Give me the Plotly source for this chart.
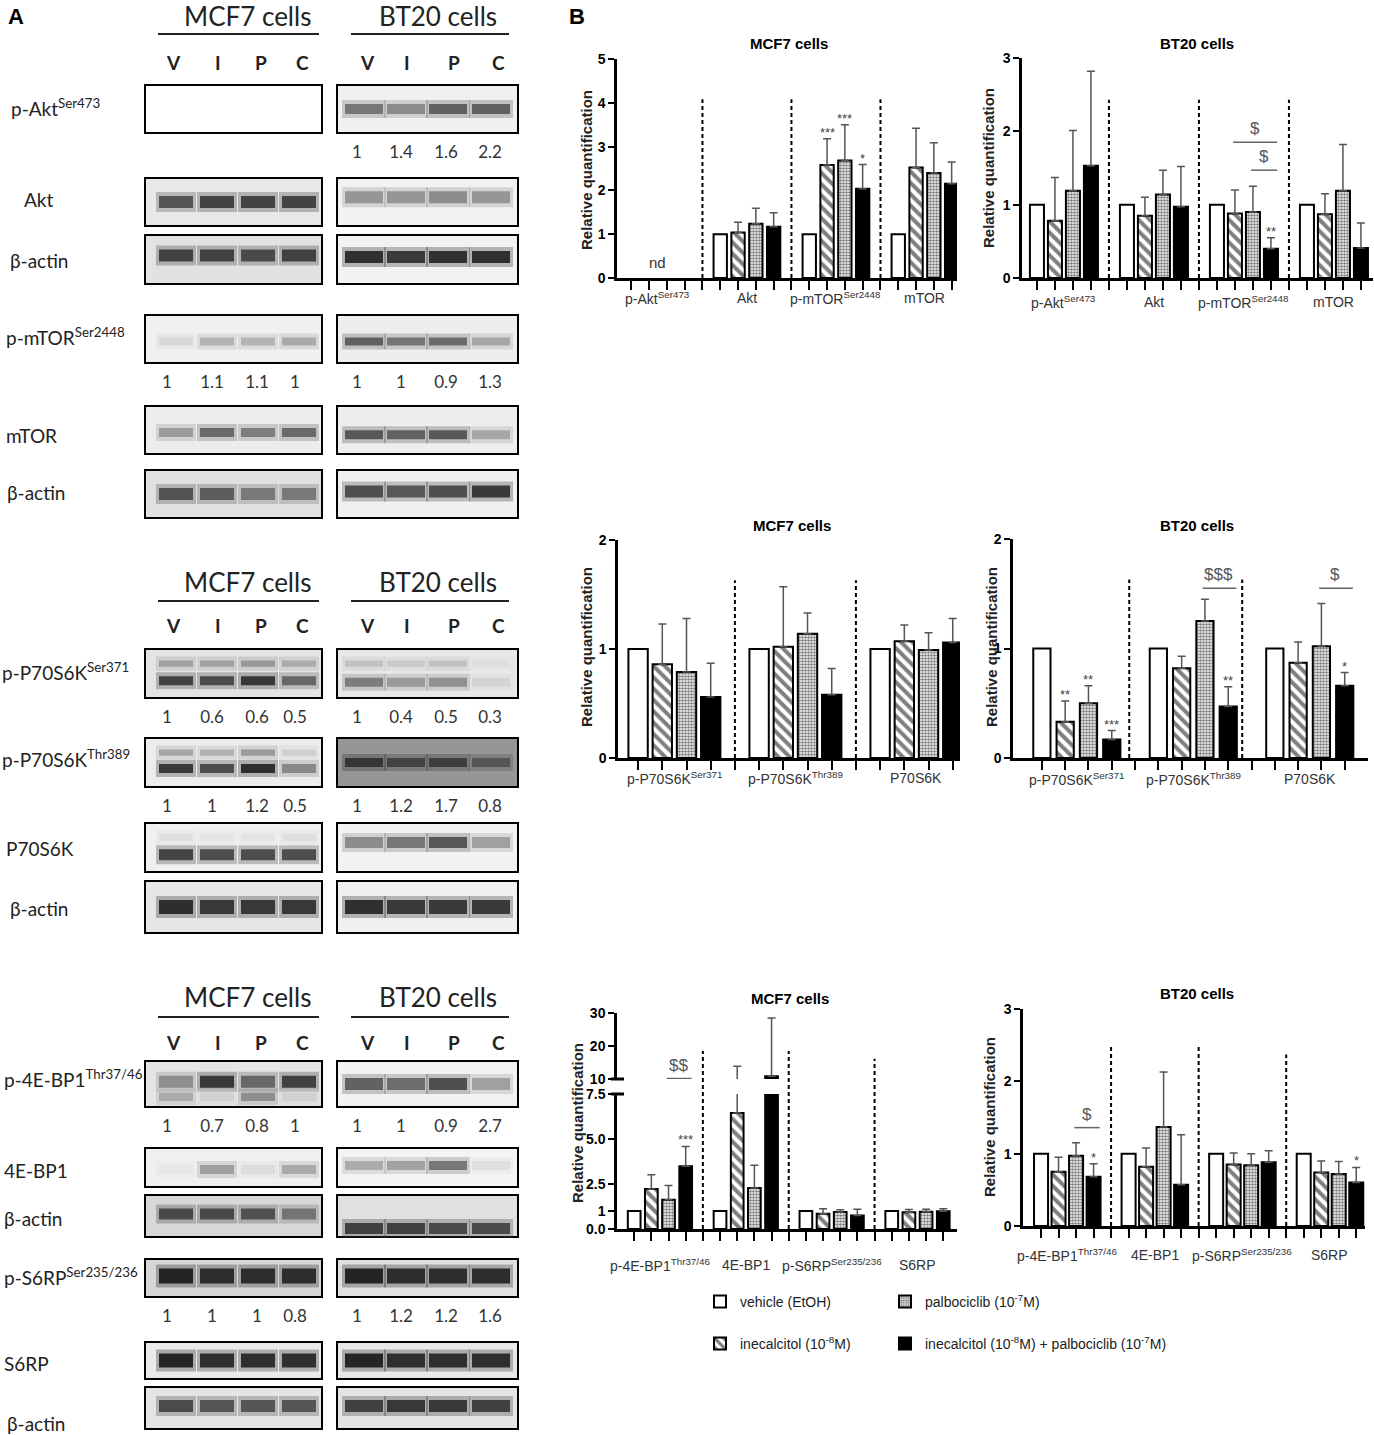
import plotly.graph_objects as go

W, H = 1374, 1435

# ---------------- panel B : quantification ----------------
treatments = [
    "vehicle (EtOH)",
    "inecalcitol (10<sup>-8</sup>M)",
    "palbociclib (10<sup>-7</sup>M)",
    "inecalcitol (10<sup>-8</sup>M) + palbociclib (10<sup>-7</sup>M)",
]

groups_akt = ["p-Akt<sup>Ser473</sup>", "Akt", "p-mTOR<sup>Ser2448</sup>", "mTOR"]
groups_p70 = ["p-P70S6K<sup>Ser371</sup>", "p-P70S6K<sup>Thr389</sup>", "P70S6K"]
groups_4ebp = ["p-4E-BP1<sup>Thr37/46</sup>", "4E-BP1", "p-S6RP<sup>Ser235/236</sup>", "S6RP"]

# rows: vehicle, inecalcitol, palbociclib, combination / columns: proteins
mcf7_akt_mean = [[None, 1, 1, 1], [None, 1.04, 2.58, 2.52], [None, 1.24, 2.68, 2.40], [None, 1.17, 2.04, 2.15]]
mcf7_akt_sd = [[None, 0, 0, 0], [None, 0.23, 0.60, 0.90], [None, 0.35, 0.82, 0.69], [None, 0.32, 0.55, 0.50]]
bt20_akt_mean = [[1, 1, 1, 1], [0.78, 0.85, 0.88, 0.87], [1.19, 1.14, 0.90, 1.19], [1.53, 0.97, 0.40, 0.41]]
bt20_akt_sd = [[0, 0, 0, 0], [0.59, 0.25, 0.32, 0.28], [0.82, 0.33, 0.35, 0.63], [1.29, 0.55, 0.15, 0.34]]
mcf7_p70_mean = [[1, 1, 1], [0.86, 1.02, 1.07], [0.79, 1.14, 0.99], [0.56, 0.58, 1.06]]
mcf7_p70_sd = [[0, 0, 0], [0.37, 0.55, 0.15], [0.49, 0.19, 0.16], [0.31, 0.24, 0.22]]
bt20_p70_mean = [[1, 1, 1], [0.33, 0.82, 0.87], [0.50, 1.25, 1.02], [0.17, 0.47, 0.66]]
bt20_p70_sd = [[0, 0, 0], [0.19, 0.11, 0.19], [0.16, 0.20, 0.39], [0.08, 0.18, 0.12]]
mcf7_4ebp_mean = [[1, 1, 1, 1], [2.22, 6.44, 0.85, 0.93], [1.63, 2.28, 0.95, 0.96], [3.48, 10.8, 0.75, 0.98]]
mcf7_4ebp_sd = [[0, 0, 0, 0], [0.80, 7.46, 0.27, 0.15], [0.78, 1.26, 0.12, 0.14], [1.11, 17.7, 0.35, 0.14]]
bt20_4ebp_mean = [[1, 1, 1, 1], [0.75, 0.82, 0.85, 0.74], [0.97, 1.37, 0.84, 0.72], [0.68, 0.57, 0.88, 0.60]]
bt20_4ebp_sd = [[0, 0, 0, 0], [0.20, 0.26, 0.16, 0.16], [0.18, 0.76, 0.16, 0.17], [0.18, 0.69, 0.16, 0.21]]

# vs vehicle: (protein, treatment, mark)
mcf7_akt_stars = [(2, 1, "***"), (2, 2, "***"), (2, 3, "*")]
bt20_akt_stars = [(2, 3, "**")]
mcf7_p70_stars = []
bt20_p70_stars = [(0, 1, "**"), (0, 2, "**"), (0, 3, "***"), (1, 3, "**"), (2, 3, "*")]
mcf7_4ebp_stars = [(0, 3, "***")]
bt20_4ebp_stars = [(0, 3, "*"), (3, 3, "*")]

# combination vs single agent: (protein, from, to, height, mark)
mcf7_akt_cmp = []
bt20_akt_cmp = [(2, 1, 3, 1.85, "$"), (2, 2, 3, 1.47, "$")]
mcf7_p70_cmp = []
bt20_p70_cmp = [(1, 2, 3, 1.55, "$$$"), (2, 2, 3, 1.55, "$")]
mcf7_4ebp_cmp = [(0, 2, 3, 10.15, "$$")]
bt20_4ebp_cmp = [(0, 2, 3, 1.36, "$")]

# ---------------- panel A : western blots ----------------
blot_names = ["p-Akt<sup>Ser473</sup>", "Akt", "β-actin", "p-mTOR<sup>Ser2448</sup>", "mTOR", "β-actin",
              "p-P70S6K<sup>Ser371</sup>", "p-P70S6K<sup>Thr389</sup>", "P70S6K", "β-actin",
              "p-4E-BP1<sup>Thr37/46</sup>", "4E-BP1", "β-actin", "p-S6RP<sup>Ser235/236</sup>", "S6RP", "β-actin"]
lanes = ["V", "I", "P", "C"]

# band darkness per lane (0 = none, 1 = black)
mcf7_bands = [[0, 0, 0, 0], [0.75, 0.85, 0.85, 0.85], [0.85, 0.85, 0.8, 0.85], [0.12, 0.3, 0.3, 0.35],
              [0.4, 0.65, 0.55, 0.65], [0.75, 0.7, 0.55, 0.55], [0.85, 0.8, 0.9, 0.65], [0.9, 0.8, 0.95, 0.5],
              [0.85, 0.8, 0.8, 0.8], [0.95, 0.9, 0.9, 0.9], [0.45, 0.9, 0.65, 0.85], [0.05, 0.4, 0.1, 0.35],
              [0.8, 0.8, 0.75, 0.55], [1, 0.95, 0.95, 0.95], [1, 0.95, 0.95, 0.95], [0.8, 0.75, 0.75, 0.75]]
mcf7_bands_minor = [None, None, None, None, None, None, [0.35, 0.35, 0.4, 0.3], [0.35, 0.3, 0.4, 0.15],
                    [0.08, 0.06, 0.06, 0.08], None, [0.3, 0.1, 0.45, 0.1], None, None, None, None, None]
bt20_bands = [[0.6, 0.5, 0.7, 0.7], [0.45, 0.45, 0.5, 0.45], [0.95, 0.9, 0.95, 0.95], [0.7, 0.6, 0.65, 0.35],
              [0.75, 0.7, 0.75, 0.35], [0.8, 0.75, 0.8, 0.9], [0.55, 0.4, 0.45, 0.1], [0.8, 0.7, 0.75, 0.55],
              [0.5, 0.6, 0.75, 0.4], [0.95, 0.9, 0.9, 0.9], [0.7, 0.65, 0.8, 0.4], [0.35, 0.4, 0.6, 0.1],
              [0.85, 0.85, 0.8, 0.8], [1, 0.95, 0.95, 0.95], [1, 0.95, 0.95, 0.95], [0.85, 0.9, 0.9, 0.85]]
bt20_bands_minor = [None, None, None, None, None, None, [0.2, 0.15, 0.2, 0.05], None,
                    None, None, None, None, None, None, None, None]

# densitometry ratios printed under the phospho blots
mcf7_quant = [None, None, None, [1, 1.1, 1.1, 1], None, None, [1, 0.6, 0.6, 0.5], [1, 1, 1.2, 0.5],
              None, None, [1, 0.7, 0.8, 1], None, None, [1, 1, 1, 0.8], None, None]
bt20_quant = [[1, 1.4, 1.6, 2.2], None, None, [1, 1, 0.9, 1.3], None, None, [1, 0.4, 0.5, 0.3], [1, 1.2, 1.7, 0.8],
              None, None, [1, 1, 0.9, 2.7], None, None, [1, 1.2, 1.2, 1.6], None, None]

# ---------------- layout (pixels) ----------------
def fx(px):
    return px / W


def fy(py):
    return 1 - py / H


charts = [
    dict(title="MCF7 cells", groups=groups_akt, mean=mcf7_akt_mean, sd=mcf7_akt_sd,
         stars=mcf7_akt_stars, cmp=mcf7_akt_cmp, px_x=(617, 957), px_y=(59, 278),
         xr=(-0.8, 18.3), yr=(0, 5), yt=[0, 1, 2, 3, 4, 5], ytt=None, bw=0.75,
         seps=[4, 9, 14], sep_h=[4.08, 4.08, 4.08], title_xy=(789, 44), ylab_xy=(586, 170), xlab_y=298),
    dict(title="BT20 cells", groups=groups_akt, mean=bt20_akt_mean, sd=bt20_akt_sd,
         stars=bt20_akt_stars, cmp=bt20_akt_cmp, px_x=(1022, 1373), px_y=(58, 278),
         xr=(-0.83, 18.67), yr=(0, 3), yt=[0, 1, 2, 3], ytt=None, bw=0.78,
         seps=[4, 9, 14], sep_h=[2.43, 2.43, 2.43], title_xy=(1197, 44), ylab_xy=(988, 168), xlab_y=302),
    dict(title="MCF7 cells", groups=groups_p70, mean=mcf7_p70_mean, sd=mcf7_p70_sd,
         stars=mcf7_p70_stars, cmp=mcf7_p70_cmp, px_x=(618, 960), px_y=(540, 758),
         xr=(-0.83, 13.3), yr=(0, 2), yt=[0, 1, 2], ytt=None, bw=0.8,
         seps=[4, 9], sep_h=[1.63, 1.63], title_xy=(792, 525), ylab_xy=(586, 647), xlab_y=778),
    dict(title="BT20 cells", groups=groups_p70, mean=bt20_p70_mean, sd=bt20_p70_sd,
         stars=bt20_p70_stars, cmp=bt20_p70_cmp, px_x=(1013, 1368), px_y=(539, 758),
         xr=(-1.24, 14.0), yr=(0, 2), yt=[0, 1, 2], ytt=None, bw=0.74,
         seps=[3.75, 8.6], sep_h=[1.63, 1.63], title_xy=(1197, 525), ylab_xy=(991, 647), xlab_y=779),
    dict(title="MCF7 cells", groups=groups_4ebp, mean=mcf7_4ebp_mean, sd=mcf7_4ebp_sd,
         stars=mcf7_4ebp_stars, cmp=mcf7_4ebp_cmp, px_x=(617, 957), px_y=(1094, 1229),
         xr=(-1.0, 18.8), yr=(0, 7.5), yt=[0, 1, 2.5, 5, 7.5], ytt=["0.0", "1", "2.5", "5.0", "7.5"], bw=0.74,
         upper=dict(px_y=(1013, 1079), yr=(10, 30), yt=[10, 20, 30]),
         seps=[4, 9, 14], sep_h=[18.5, 18.5, 16.1], title_xy=(790, 998), ylab_xy=(577, 1123), xlab_y=1265),
    dict(title="BT20 cells", groups=groups_4ebp, mean=bt20_4ebp_mean, sd=bt20_4ebp_sd,
         stars=bt20_4ebp_stars, cmp=bt20_4ebp_cmp, px_x=(1023, 1365), px_y=(1009, 1226),
         xr=(-1.03, 18.5), yr=(0, 3), yt=[0, 1, 2, 3], ytt=None, bw=0.8,
         seps=[4, 9, 14], sep_h=[2.48, 2.48, 2.37], title_xy=(1197, 994), ylab_xy=(989, 1117), xlab_y=1255),
]

FONT_B = "Liberation Sans"
FONT_A = "Lato"


def bar_marker(t):
    line = dict(color="black", width=2)
    if t == 0:
        return dict(color="white", line=line)
    if t == 1:
        return dict(color="white", line=line,
                    pattern=dict(shape="\\", fgcolor="black", bgcolor="white", size=8, solidity=0.5))
    if t == 2:
        return dict(color="white", line=line,
                    pattern=dict(shape=".", fgcolor="black", bgcolor="white", size=3, solidity=0.6))
    return dict(color="black", line=line)


def note(x, y, text, xref="paper", yref="paper", **kw):
    d = dict(x=x, y=y, xref=xref, yref=yref, text=text, showarrow=False,
             xanchor="center", yanchor="middle")
    d.update(kw)
    return d


fig = go.Figure()
shapes = []
annotations = []
axes = {}

legend_of = ["legend", "legend3", "legend2", "legend4"]

for i, c in enumerate(charts, start=1):
    xa, ya = f"x{i}", f"y{i}"
    ng = len(c["groups"])
    slots = list(range(ng * 5 - 1))
    axes[f"xaxis{i}"] = dict(
        domain=[fx(c["px_x"][0]), fx(c["px_x"][1])], range=list(c["xr"]), anchor=ya,
        showline=True, linewidth=2.5, linecolor="black", ticks="outside", ticklen=9, tickwidth=2,
        tickcolor="black", tickvals=slots, showticklabels=False, showgrid=False, zeroline=False)
    axes[f"yaxis{i}"] = dict(
        domain=[fy(c["px_y"][1]), fy(c["px_y"][0])], range=list(c["yr"]), anchor=xa,
        showline=True, linewidth=2.5, linecolor="black", ticks="outside", ticklen=6, tickwidth=2,
        tickcolor="black", tickvals=c["yt"], ticktext=c["ytt"] if c["ytt"] else [str(v) for v in c["yt"]],
        tickfont=dict(family=FONT_B, size=14, color="black", weight="bold"),
        showgrid=False, zeroline=False)
    y_axes = [ya]
    if "upper" in c:
        u = c["upper"]
        axes["yaxis7"] = dict(
            domain=[fy(u["px_y"][1]), fy(u["px_y"][0])], range=list(u["yr"]), anchor=xa,
            showline=True, linewidth=2.5, linecolor="black", ticks="outside", ticklen=6, tickwidth=2,
            tickcolor="black", tickvals=u["yt"], tickfont=dict(family=FONT_B, size=14, color="black", weight="bold"),
            showgrid=False, zeroline=False)
        y_axes.append("y7")

    for k, yref in enumerate(y_axes):
        for t in range(4):
            xs = [g * 5 + t for g in range(ng)]
            ys = c["mean"][t]
            sds = [s if s is not None else 0 for s in c["sd"][t]]
            fig.add_trace(go.Bar(
                x=xs, y=ys, width=c["bw"], xaxis=xa, yaxis=yref, name=treatments[t],
                marker=bar_marker(t),
                error_y=dict(type="data", symmetric=False, array=sds, arrayminus=[0] * ng,
                             color="#555555", thickness=1.5, width=4, visible=(t > 0)),
                showlegend=(i == 1 and k == 0), legend=legend_of[t], hoverinfo="skip"))

    # dashed separators between proteins
    for s, h in zip(c["seps"], c["sep_h"]):
        if "upper" in c:
            d0, d1 = axes["yaxis7"]["domain"]
            lo, hi = c["upper"]["yr"]
            y_top = d0 + (h - lo) / (hi - lo) * (d1 - d0)
            shapes.append(dict(type="line", xref=xa, yref="paper", x0=s, x1=s,
                               y0=fy(c["px_y"][1]), y1=y_top,
                               line=dict(color="black", width=2, dash="4px,3px")))
        else:
            shapes.append(dict(type="line", xref=xa, yref=ya, x0=s, x1=s, y0=0, y1=h,
                               line=dict(color="black", width=2, dash="4px,3px")))

    # stars
    for g, t, mark in c["stars"]:
        top = c["mean"][t][g] + c["sd"][t][g]
        annotations.append(note(g * 5 + t, top, mark, xa, ya, yanchor="bottom", yshift=-3,
                                font=dict(family=FONT_B, size=13, color="#444444")))
    # comparisons
    for g, t0, t1, h, mark in c["cmp"]:
        yref = "y7" if h > c["yr"][1] else ya
        shapes.append(dict(type="line", xref=xa, yref=yref, x0=g * 5 + t0 - 0.1, x1=g * 5 + t1 + 0.35,
                           y0=h, y1=h, line=dict(color="#666666", width=1.5)))
        annotations.append(note(g * 5 + (t0 + t1) / 2 + 0.1, h, mark, xa, yref, yanchor="bottom", yshift=2,
                                font=dict(family=FONT_B, size=17, color="#555555")))

    # protein labels under the axis
    for g, name in enumerate(c["groups"]):
        annotations.append(note(g * 5 + 1.5, fy(c["xlab_y"]), name, xa, "paper",
                                font=dict(family=FONT_B, size=14, color="#333333")))
    if c["mean"][0][0] is None:
        annotations.append(note(1.5, 0.12, "nd", xa, ya, yanchor="bottom",
                                font=dict(family=FONT_B, size=15, color="#333333")))

    annotations.append(note(fx(c["title_xy"][0]), fy(c["title_xy"][1]), f"<b>{c['title']}</b>",
                            font=dict(family=FONT_B, size=15, color="black")))
    annotations.append(note(fx(c["ylab_xy"][0]), fy(c["ylab_xy"][1]), "<b>Relative quantification</b>",
                            textangle=-90, font=dict(family=FONT_B, size=15, color="#222222")))

# axis break marks on the MCF7 bottom chart
for py in (1079, 1094):
    shapes.append(dict(type="line", xref="paper", yref="paper", x0=fx(611), x1=fx(624),
                       y0=fy(py), y1=fy(py), line=dict(color="black", width=3)))

# ---------------- panel A drawing ----------------
axes["xaxis8"] = dict(domain=[0, 1], range=[0, W], anchor="y8", visible=False, fixedrange=True)
axes["yaxis8"] = dict(domain=[0, 1], range=[H, 0], anchor="x8", visible=False, fixedrange=True)

row_box = [(85, 133), (178, 226), (235, 284), (315, 363), (406, 454), (470, 518),
           (649, 698), (738, 787), (823, 872), (881, 933),
           (1061, 1107), (1148, 1187), (1195, 1237), (1259, 1297), (1342, 1379), (1387, 1429)]
label_x = [9, 22, 8, 4, 4, 5, 0, 0, 4, 8, 2, 2, 2, 2, 2, 5]
label_y = [107, 199, 260, 336, 435, 492, 671, 758, 848, 908, 1078, 1170, 1218, 1276, 1363, 1423]
thick = [10, 12, 12, 8, 9, 12, 9, 9, 11, 14, 12, 9, 11, 15, 14, 12]
mcf7_frac = [0.5, 0.5, 0.42, 0.55, 0.55, 0.5, 0.65, 0.62, 0.65, 0.5, 0.45, 0.55, 0.45, 0.45, 0.5, 0.45]
bt20_frac = [0.5, 0.4, 0.45, 0.55, 0.6, 0.45, 0.68, 0.5, 0.4, 0.5, 0.5, 0.45, 0.8, 0.45, 0.5, 0.45]
minor_frac = [None, None, None, None, None, None, 0.3, 0.3, 0.3, None, 0.78, None, None, None, None, None]
mcf7_bg = [255, 232, 226, 240, 236, 224, 228, 236, 240, 230, 228, 240, 216, 214, 234, 228]
bt20_bg = [240, 242, 242, 238, 238, 240, 232, 150, 242, 240, 242, 244, 224, 224, 232, 228]

panels = [
    dict(box=(145, 322), lane_x=[176, 217, 258, 299], hw=17, bands=mcf7_bands, minor=mcf7_bands_minor,
         frac=mcf7_frac, bg=mcf7_bg, quant=mcf7_quant, quant_x=[167, 212, 257, 295],
         title="MCF7 cells", title_x=247, rule=(158, 319), lab_x=[173, 218, 261, 302]),
    dict(box=(337, 518), lane_x=[364, 406, 448, 491], hw=19, bands=bt20_bands, minor=bt20_bands_minor,
         frac=bt20_frac, bg=bt20_bg, quant=bt20_quant, quant_x=[357, 401, 446, 490],
         title="BT20 cells", title_x=438, rule=(351, 509), lab_x=[367, 407, 454, 498]),
]
sections = [(16, 34, 62), (582, 601, 625), (997, 1017, 1042)]


def grey(level, alpha=1.0):
    v = int(round(level))
    return f"rgba({v},{v},{v},{alpha})"


def band(x0, x1, y, color, width):
    fig.add_trace(go.Scatter(x=[x0, x1], y=[y, y], mode="lines", xaxis="x8", yaxis="y8",
                             line=dict(color=color, width=width), showlegend=False, hoverinfo="skip"))


for p in panels:
    for r, (top, bot) in enumerate(row_box):
        bg = p["bg"][r]
        shapes.append(dict(type="rect", xref="x8", yref="y8", x0=p["box"][0], x1=p["box"][1], y0=top, y1=bot,
                           fillcolor=grey(bg), line=dict(color="black", width=2), layer="below"))
        layers = [(p["bands"][r], p["frac"][r], thick[r])]
        if p["minor"][r] is not None:
            layers.append((p["minor"][r], minor_frac[r], thick[r] * 0.7))
        for vals, frac, th in layers:
            y = top + frac * (bot - top)
            for lx, v in zip(p["lane_x"], vals):
                if v <= 0:
                    continue
                col = bg * (1 - v) + 22 * v
                band(lx - p["hw"] - 3, lx + p["hw"] + 3, y, grey(col, 0.3), th + 8)
                band(lx - p["hw"], lx + p["hw"], y, grey(col, 0.9), th)
        if p["quant"][r] is not None:
            fig.add_trace(go.Scatter(
                x=p["quant_x"], y=[bot + 21] * 4, mode="text", text=[str(q) for q in p["quant"][r]],
                textposition="middle center", textfont=dict(family=FONT_A, size=17, color="#333333"),
                xaxis="x8", yaxis="y8", showlegend=False, hoverinfo="skip"))
    for ty, ry, ly in sections:
        annotations.append(note(p["title_x"], ty, p["title"], "x8", "y8",
                                font=dict(family=FONT_A, size=26, color="#222222")))
        shapes.append(dict(type="line", xref="x8", yref="y8", x0=p["rule"][0], x1=p["rule"][1], y0=ry, y1=ry,
                           line=dict(color="#222222", width=2)))
        for lx, ln in zip(p["lab_x"], lanes):
            annotations.append(note(lx, ly, f"<b>{ln}</b>", "x8", "y8",
                                    font=dict(family=FONT_A, size=19, color="#222222")))

for r, name in enumerate(blot_names):
    annotations.append(note(label_x[r], label_y[r], name, "x8", "y8", xanchor="left",
                            font=dict(family=FONT_A, size=19, color="#222222")))

annotations.append(note(fx(6), fy(16), "<b>A</b>", xanchor="left", font=dict(family=FONT_B, size=22, color="black")))
annotations.append(note(fx(567), fy(16), "<b>B</b>", xanchor="left", font=dict(family=FONT_B, size=22, color="black")))

legend_style = dict(xanchor="left", yanchor="middle", font=dict(family=FONT_B, size=14, color="#222222"),
                    bgcolor="rgba(0,0,0,0)", borderwidth=0)

fig.update_layout(
    width=W, height=H, margin=dict(l=0, r=0, t=0, b=0, autoexpand=False),
    paper_bgcolor="white", plot_bgcolor="rgba(0,0,0,0)",
    barmode="overlay", showlegend=True,
    legend=dict(x=fx(700), y=fy(1302), **legend_style),
    legend2=dict(x=fx(885), y=fy(1302), **legend_style),
    legend3=dict(x=fx(700), y=fy(1344), **legend_style),
    legend4=dict(x=fx(885), y=fy(1344), **legend_style),
    shapes=shapes, annotations=annotations, **axes,
)

fig.write_html("out.html", config={"displayModeBar": False},
               post_script="document.body.style.margin='0';")
